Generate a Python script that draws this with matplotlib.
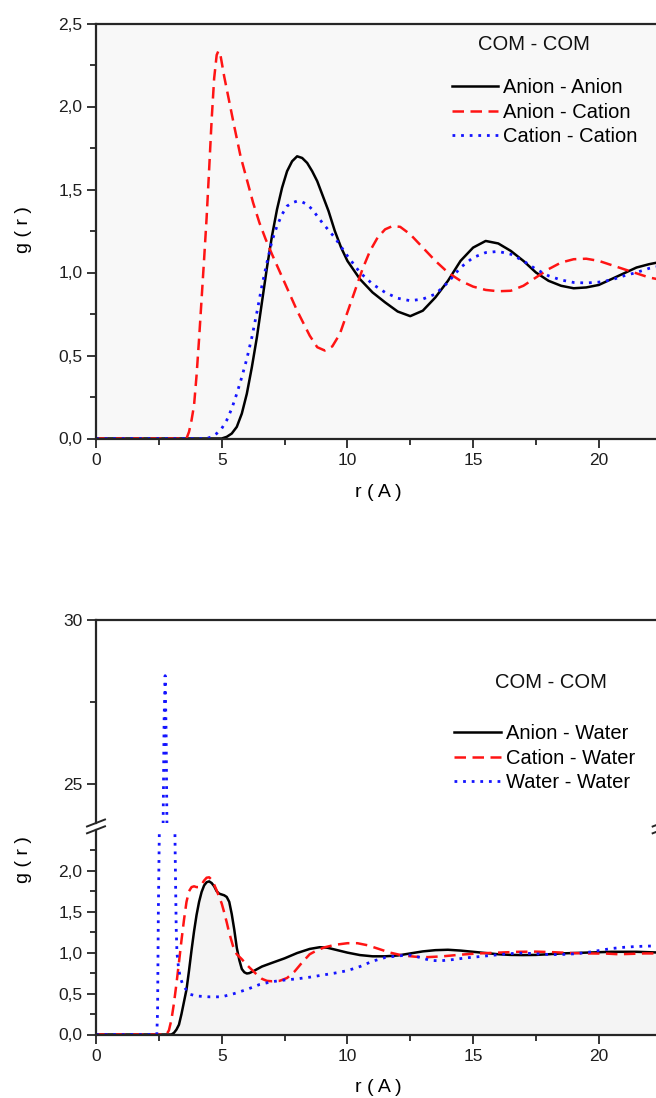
import matplotlib
matplotlib.use("Agg")
import matplotlib.pyplot as plt
from matplotlib.ticker import MultipleLocator, FixedLocator, FuncFormatter
from matplotlib.lines import Line2D

plt.rcParams['font.family'] = ['Liberation Sans', 'DejaVu Sans']

# ---------------- ion / ion centre-of-mass RDFs ----------------
r_anion_anion = [0.0, 5.0, 5.2, 5.4, 5.6, 5.8, 6.0, 6.2, 6.4, 6.6, 6.8, 7.0, 7.2, 7.4,
                 7.6, 7.8, 8.0, 8.2, 8.4, 8.6, 8.8, 9.0, 9.25, 9.5, 9.75, 10.0, 10.5,
                 11.0, 11.5, 12.0, 12.5, 13.0, 13.5, 14.0, 14.5, 15.0, 15.5, 16.0,
                 16.5, 17.0, 17.5, 18.0, 18.5, 19.0, 19.5, 20.0, 20.5, 21.0, 21.5,
                 22.0, 22.5, 23.0]
g_anion_anion = [0.0, 0.0, 0.01, 0.03, 0.07, 0.15, 0.27, 0.43, 0.61, 0.82, 1.03, 1.22,
                 1.38, 1.51, 1.61, 1.67, 1.70, 1.69, 1.66, 1.61, 1.55, 1.47, 1.37,
                 1.25, 1.15, 1.07, 0.96, 0.88, 0.82, 0.765, 0.737, 0.77, 0.85, 0.95,
                 1.07, 1.15, 1.19, 1.175, 1.13, 1.07, 1.0, 0.95, 0.92, 0.905, 0.91,
                 0.925, 0.96, 0.995, 1.03, 1.05, 1.065, 1.07]

r_anion_cation = [0.0, 3.6, 3.7, 3.8, 3.9, 4.0, 4.1, 4.2, 4.3, 4.4, 4.5, 4.6, 4.7, 4.8,
                  4.87, 4.95, 5.1, 5.3, 5.5, 5.75, 6.0, 6.25, 6.5, 6.75, 7.0, 7.5, 8.0,
                  8.5, 8.8, 9.1, 9.4, 9.7, 10.0, 10.3, 10.6, 10.9, 11.2, 11.5, 11.8,
                  12.1, 12.5, 13.0, 13.5, 14.0, 14.5, 15.0, 15.5, 16.0, 16.5, 17.0,
                  17.5, 18.0, 18.5, 19.0, 19.5, 20.0, 20.5, 21.0, 21.5, 22.0, 22.5, 23.0]
g_anion_cation = [0.0, 0.0, 0.04, 0.11, 0.20, 0.38, 0.60, 0.84, 1.08, 1.33, 1.62, 1.92,
                  2.17, 2.31, 2.335, 2.31, 2.18, 2.03, 1.88, 1.70, 1.56, 1.42, 1.30,
                  1.20, 1.11, 0.94, 0.77, 0.62, 0.55, 0.53, 0.555, 0.63, 0.76, 0.89,
                  1.02, 1.13, 1.21, 1.26, 1.28, 1.275, 1.23, 1.15, 1.07, 1.0, 0.95,
                  0.915, 0.895, 0.887, 0.89, 0.92, 0.97, 1.02, 1.06, 1.08, 1.083, 1.07,
                  1.045, 1.02, 0.995, 0.97, 0.955, 0.945]

r_cation_cation = [0.0, 4.4, 4.6, 4.8, 5.0, 5.2, 5.4, 5.6, 5.8, 6.0, 6.2, 6.4, 6.6, 6.8,
                   7.0, 7.2, 7.4, 7.6, 7.8, 8.0, 8.2, 8.4, 8.6, 8.8, 9.0, 9.5, 10.0,
                   10.5, 11.0, 11.5, 12.0, 12.5, 13.0, 13.5, 14.0, 14.5, 15.0, 15.5,
                   16.0, 16.5, 17.0, 17.5, 18.0, 18.5, 19.0, 19.5, 20.0, 20.5, 21.0,
                   21.5, 22.0, 22.5, 23.0]
g_cation_cation = [0.0, 0.0, 0.01, 0.03, 0.06, 0.11, 0.18, 0.27, 0.37, 0.48, 0.61, 0.76,
                   0.92, 1.06, 1.19, 1.28, 1.35, 1.40, 1.42, 1.43, 1.425, 1.41, 1.38,
                   1.34, 1.30, 1.21, 1.10, 1.0, 0.93, 0.88, 0.845, 0.83, 0.84, 0.87,
                   0.94, 1.03, 1.09, 1.12, 1.127, 1.11, 1.07, 1.02, 0.98, 0.955, 0.94,
                   0.937, 0.942, 0.955, 0.98, 1.0, 1.025, 1.04, 1.05]

# ---------------- ion / water and water / water RDFs ----------------
r_anion_water = [0.0, 3.0, 3.1, 3.2, 3.3, 3.4, 3.5, 3.6, 3.7, 3.8, 3.9, 4.0, 4.1, 4.2,
                 4.3, 4.4, 4.5, 4.6, 4.7, 4.8, 4.9, 5.0, 5.1, 5.2, 5.3, 5.4, 5.5, 5.6,
                 5.7, 5.8, 5.9, 6.0, 6.1, 6.3, 6.6, 7.0, 7.5, 8.0, 8.5, 8.9, 9.2, 9.6,
                 10.0, 10.5, 11.0, 11.5, 12.0, 12.5, 13.0, 13.5, 14.0, 14.5, 15.0,
                 15.5, 16.0, 16.5, 17.0, 17.5, 18.0, 18.5, 19.0, 19.5, 20.0, 20.5,
                 21.0, 21.5, 22.0, 22.5, 23.0]
g_anion_water = [0.0, 0.0, 0.02, 0.06, 0.12, 0.25, 0.40, 0.55, 0.78, 1.03, 1.26, 1.46,
                 1.62, 1.74, 1.82, 1.86, 1.87, 1.85, 1.81, 1.75, 1.72, 1.71, 1.70,
                 1.68, 1.62, 1.47, 1.28, 1.06, 0.91, 0.80, 0.76, 0.745, 0.75, 0.78,
                 0.83, 0.875, 0.93, 0.995, 1.045, 1.066, 1.06, 1.03, 1.0, 0.97, 0.955,
                 0.955, 0.965, 0.99, 1.015, 1.03, 1.035, 1.025, 1.01, 0.995, 0.98,
                 0.972, 0.97, 0.972, 0.98, 0.99, 0.995, 1.0, 1.005, 1.01, 1.01, 1.01,
                 1.005, 1.0, 1.0]

r_cation_water = [0.0, 2.8, 2.9, 3.0, 3.1, 3.2, 3.3, 3.4, 3.5, 3.6, 3.7, 3.8, 3.9, 4.0,
                  4.1, 4.2, 4.3, 4.4, 4.5, 4.6, 4.7, 4.8, 4.9, 5.0, 5.1, 5.2, 5.3,
                  5.45, 5.6, 5.8, 6.0, 6.2, 6.4, 6.6, 6.8, 7.0, 7.3, 7.6, 7.9, 8.2,
                  8.5, 8.8, 9.1, 9.5, 10.0, 10.4, 10.8, 11.2, 11.7, 12.2, 12.7, 13.2,
                  13.8, 14.5, 15.2, 16.0, 16.8, 17.5, 18.2, 18.9, 19.6, 20.3, 20.8,
                  21.3, 21.8, 22.5, 23.0]
g_cation_water = [0.0, 0.0, 0.05, 0.18, 0.38, 0.62, 0.88, 1.15, 1.40, 1.62, 1.75, 1.80,
                  1.81, 1.80, 1.80, 1.83, 1.88, 1.915, 1.92, 1.89, 1.83, 1.76, 1.68,
                  1.60, 1.49, 1.37, 1.24, 1.08, 0.98, 0.92, 0.85, 0.79, 0.73, 0.68,
                  0.655, 0.65, 0.655, 0.69, 0.77, 0.88, 0.98, 1.03, 1.065, 1.095,
                  1.115, 1.115, 1.09, 1.05, 1.0, 0.965, 0.95, 0.945, 0.955, 0.975,
                  0.99, 1.0, 1.01, 1.012, 1.005, 0.995, 0.99, 0.988, 0.98, 0.985,
                  0.99, 0.99, 0.99]

r_water_water = [0.0, 2.42, 2.45, 2.48, 2.52, 2.57, 2.62, 2.66, 2.71, 2.75, 2.79, 2.83,
                 2.9, 3.0, 3.1, 3.15, 3.19, 3.22, 3.28, 3.35, 3.45, 3.6, 3.75, 4.0,
                 4.5, 5.0, 5.5, 6.0, 6.5, 7.0, 7.5, 8.0, 8.5, 9.0, 9.5, 10.0, 10.5,
                 11.0, 11.5, 12.0, 12.5, 12.9, 13.3, 13.7, 14.2, 14.7, 15.2, 15.7,
                 16.2, 16.8, 17.3, 17.8, 18.4, 19.0, 19.5, 20.0, 20.5, 21.0, 21.5,
                 22.0, 22.5, 23.0]
g_water_water = [0.0, 0.0, 0.3, 1.5, 2.5, 6.0, 16.0, 23.0, 27.0, 28.3, 26.5, 23.0,
                 15.0, 8.0, 3.5, 2.2, 1.3, 1.0, 0.82, 0.7, 0.61, 0.54, 0.49, 0.47,
                 0.46, 0.46, 0.50, 0.55, 0.61, 0.645, 0.665, 0.68, 0.70, 0.725, 0.75,
                 0.78, 0.83, 0.895, 0.94, 0.96, 0.97, 0.94, 0.905, 0.90, 0.915, 0.935,
                 0.95, 0.965, 0.98, 0.995, 0.99, 0.98, 0.975, 0.985, 1.0, 1.025, 1.05,
                 1.065, 1.075, 1.08, 1.08, 1.08]

labels_top = ['Anion - Anion', 'Anion - Cation', 'Cation - Cation']
labels_bottom = ['Anion - Water', 'Cation - Water', 'Water - Water']

# ---------------- layout helpers ----------------
W, H = 656, 1098
fig = plt.figure(figsize=(W / 100, H / 100), dpi=100)


def rect(left, top, right, bottom):
    return [left / W, 1 - bottom / H, (right - left) / W, (bottom - top) / H]


X_LEFT = 96
X_RANGE = 22.5
X_RIGHT = X_LEFT + X_RANGE * 25.14
SPINE = '#262626'
LINE_STYLES = [
    dict(color='black', lw=1.8, linestyle='-'),
    dict(color='#ff1414', lw=1.8, dashes=(4.6, 2.6)),
    dict(color='#1414ff', lw=2.0, dashes=(1.0, 2.1)),
]
comma = FuncFormatter(lambda v, p: f"{v:.1f}".replace('.', ','))


def style_axes(ax):
    for s in ax.spines.values():
        s.set_color(SPINE)
        s.set_linewidth(1.6)
    ax.spines['right'].set_visible(False)
    ax.tick_params(which='both', direction='out', color=SPINE, width=1.3,
                   labelsize=12.5, labelcolor='#1e1e1e', top=False, right=False)
    ax.tick_params(which='major', length=6.2)
    ax.tick_params(which='minor', length=4.2)
    ax.tick_params(axis='x', which='both', pad=4.5)
    ax.tick_params(axis='y', which='both', pad=3.5)
    ax.set_xlim(0, X_RANGE)
    ax.xaxis.set_major_locator(MultipleLocator(5))
    ax.xaxis.set_minor_locator(MultipleLocator(2.5))


def add_legend(ax, handles, labels, title, title_xy, top_left):
    fig.text(title_xy[0] / W, 1 - title_xy[1] / H, title, fontsize=14.5,
             ha='center', va='center', color='#111111')
    ax.legend(handles, labels, loc='upper left',
              bbox_to_anchor=(top_left[0] / W, 1 - top_left[1] / H),
              bbox_transform=fig.transFigure, frameon=False, fontsize=14.5,
              borderpad=0, borderaxespad=0, handlelength=2.32,
              handletextpad=0.25, labelspacing=0.28)


# ---------------- top panel: ion / ion ----------------
ax1 = fig.add_axes(rect(X_LEFT, 23.5, X_RIGHT, 438.5))
ax1.set_facecolor('#f8f8f8')
style_axes(ax1)
top_series = [(r_anion_anion, g_anion_anion), (r_anion_cation, g_anion_cation),
              (r_cation_cation, g_cation_cation)]
handles1 = []
for (r, g), st in zip(top_series, LINE_STYLES):
    ln, = ax1.plot(r, g, **st)
    handles1.append(ln)
ax1.set_ylim(0, 2.5)
ax1.yaxis.set_major_locator(MultipleLocator(0.5))
ax1.yaxis.set_minor_locator(MultipleLocator(0.25))
ax1.yaxis.set_major_formatter(comma)
add_legend(ax1, handles1, labels_top, 'COM - COM', (533.5, 45), (451.7, 78))

fig.text(378 / W, 1 - 492 / H, 'r ( A )', fontsize=14, ha='center', va='center')
fig.text(24 / W, 1 - 230 / H, 'g ( r )', fontsize=14, ha='center', va='center',
         rotation=90)

# ---------------- bottom panel: broken y axis ----------------
BREAK_HI, BREAK_LO = 823.0, 829.8
ax_hi = fig.add_axes(rect(X_LEFT, 620, X_RIGHT, BREAK_HI))
ax_lo = fig.add_axes(rect(X_LEFT, BREAK_LO, X_RIGHT, 1034.5))
bottom_series = [(r_anion_water, g_anion_water), (r_cation_water, g_cation_water),
                 (r_water_water, g_water_water)]

for ax in (ax_hi, ax_lo):
    style_axes(ax)
    for (r, g), st in zip(bottom_series, LINE_STYLES):
        ax.plot(r, g, **st)

ax_lo.fill_between(r_anion_water, 0, g_anion_water, color='#f4f4f4', lw=0, zorder=0)

ax_hi.set_ylim(23.8, 30)
ax_hi.yaxis.set_major_locator(FixedLocator([25, 30]))
ax_hi.yaxis.set_minor_locator(FixedLocator([27.5]))
ax_hi.spines['bottom'].set_visible(False)
ax_hi.tick_params(axis='x', which='both', bottom=False, labelbottom=False)

ax_lo.set_ylim(0, 2.5)
ax_lo.yaxis.set_major_locator(FixedLocator([0, 0.5, 1.0, 1.5, 2.0]))
ax_lo.yaxis.set_minor_locator(FixedLocator([0.25, 0.75, 1.25, 1.75, 2.25]))
ax_lo.yaxis.set_major_formatter(comma)
ax_lo.spines['top'].set_visible(False)

# break marks on both vertical axes
for xb in (X_LEFT, X_RIGHT):
    for yb in (BREAK_HI, BREAK_LO):
        fig.add_artist(Line2D([(xb - 9) / W, (xb + 9) / W],
                              [1 - (yb + 3.5) / H, 1 - (yb - 3.5) / H],
                              color=SPINE, lw=1.4))

handles2 = [Line2D([], [], **st) for st in LINE_STYLES]
add_legend(ax_hi, handles2, labels_bottom, 'COM - COM', (550.8, 682.7), (454, 724))

fig.text(378 / W, 1 - 1088 / H, 'r ( A )', fontsize=14, ha='center', va='center')
fig.text(24 / W, 1 - 860 / H, 'g ( r )', fontsize=14, ha='center', va='center',
         rotation=90)

fig.savefig('out.png', dpi=100)
